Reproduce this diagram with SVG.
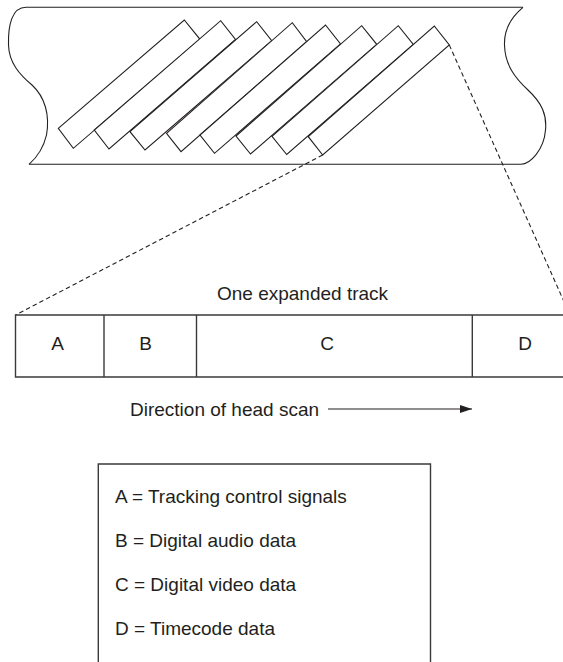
<svg xmlns="http://www.w3.org/2000/svg" width="563" height="662" viewBox="0 0 563 662">
<style>
.ln{fill:none;stroke:#231f20;stroke-width:1.1}
.trk{fill:#fff;stroke:#231f20;stroke-width:1.1;stroke-linejoin:miter}
.box{fill:none;stroke:#3a3a3a;stroke-width:1.4}
.dash{fill:none;stroke:#231f20;stroke-width:1.1;stroke-dasharray:4.5 3}
text{font-family:"Liberation Sans",Arial,sans-serif;font-size:19px;fill:#231f20}
.c{text-anchor:middle}
</style>
<defs>
<marker id="ah" viewBox="0 0 12 8" refX="12" refY="4" markerWidth="12" markerHeight="8" markerUnits="userSpaceOnUse" orient="auto">
<path d="M0,0 L12,4 L0,8 Z" fill="#231f20"/>
</marker>
</defs>
<rect width="563" height="662" fill="#fff"/>
<g id="tape">
<path class="ln" d="M26,7.3 L523,7.3 M29,164.3 L521,164.3"/>
<path class="ln" d="M26,7.3 C12,7.3 8,25 8.5,45 C9,63 20,75 32,85 C45,97 50,115 46.5,135 C43,150 34,160 29,164.3"/>
<path class="ln" d="M523,7.3 C510,18 504,30 504.5,45 C505,65 515,78 528,90 C542,103 547,115 545.5,130 C544,150 530,164 521,164.3"/>
</g>
<g id="tracks">
<polygon class="trk" points="58.3,128.3 184.3,20 200,39.3 73.3,148.3"/>
<polygon class="trk" points="94.3,130 220.7,20.7 235.5,39.5 109,149"/>
<polygon class="trk" points="130,131.7 256.7,21.7 271.7,40.7 145,150"/>
<polygon class="trk" points="166.5,133.3 292.3,22.7 306.7,41.7 181,151.7"/>
<polygon class="trk" points="200,135 325.5,25 340.5,44 214.5,153.3"/>
<polygon class="trk" points="236,136 361.7,25.7 376.7,44.3 250.5,154"/>
<polygon class="trk" points="272,136.3 398.3,25.7 413.3,44.5 286.7,154.5"/>
<polygon class="trk" points="308.3,136.7 434.3,26 449.3,45 322.7,155"/>
</g>
<g id="connectors">
<line class="dash" x1="322.7" y1="155" x2="15.5" y2="315"/>
<line class="dash" x1="449.3" y1="45" x2="570" y2="315"/>
<line class="ln" x1="328" y1="409" x2="472" y2="409" marker-end="url(#ah)"/>
</g>
<g id="expanded-track">
<text class="c" x="302.5" y="300">One expanded track</text>
<path class="box" d="M570,315 L15.5,315 L15.5,377 L570,377 M104,315 L104,377 M196.5,315 L196.5,377 M472.3,315 L472.3,377"/>
<text class="c" x="57.5" y="350">A</text>
<text class="c" x="145.7" y="350">B</text>
<text class="c" x="327" y="350">C</text>
<text class="c" x="525" y="350">D</text>
</g>
<g id="direction">
<text x="130" y="416">Direction of head scan</text>
</g>
<g id="legend">
<path class="box" d="M98.3,670 L98.3,464 L430.5,464 L430.5,670"/>
<text x="115" y="503">A = Tracking control signals</text>
<text x="115" y="547">B = Digital audio data</text>
<text x="115" y="591">C = Digital video data</text>
<text x="115" y="635">D = Timecode data</text>
</g>
</svg>
